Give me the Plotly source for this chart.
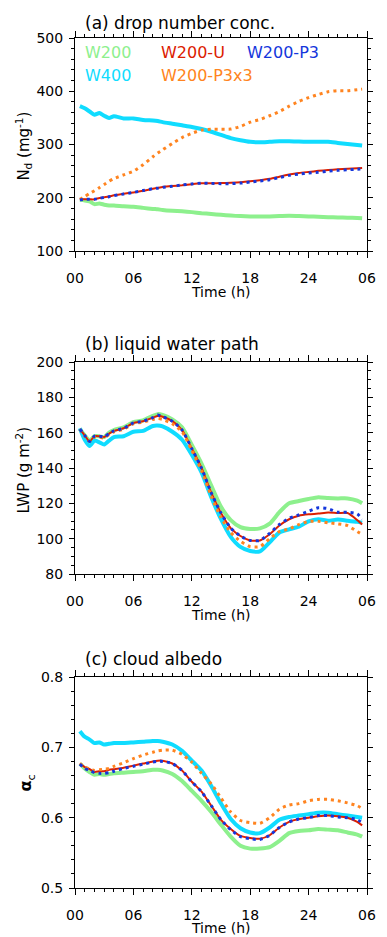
import plotly.graph_objects as go

# Time axis (hours since start of run)
time_h = [0.5, 1, 1.5, 2, 2.5, 3, 3.5, 4, 5, 6, 7, 8, 8.5, 9, 10, 11, 12, 13, 14, 15,
          16, 17, 18, 19, 20, 21, 22, 23, 24, 25, 26, 27, 28, 29, 29.5]
x_tickvals = [0, 6, 12, 18, 24, 30]
x_ticktext = ["00", "06", "12", "18", "24", "06"]

# (a) drop number concentration (mg^-1)
nd_w200 = [196, 195, 193, 188, 189, 187, 185.5, 185.5, 184, 183, 181, 179, 178.3, 177, 175.5,
           174.5, 173, 171, 169.5, 168, 166.5, 165.5, 165, 165, 165, 165.5, 166, 165.5, 165,
           164.5, 163.5, 163, 162.5, 162, 161.5]
nd_w400 = [372, 368, 362, 356, 359, 354, 350, 353, 349, 349, 346, 345, 344, 342, 339, 336, 333,
           329, 324, 318, 312, 308, 305, 304, 305, 306, 306, 305.5, 305, 305, 305, 303, 301,
           299, 298]
nd_w200_u = [197, 197, 197, 197, 199.5, 201, 202.5, 204.5, 207.5, 210, 213, 217, 218.5, 220,
             222, 223.5, 225.5, 227, 227, 227.5, 228, 229, 231, 233, 235.5, 239.5, 243.5,
             246.5, 248.5, 250.5, 252, 253.5, 254.5, 255.5, 256]
nd_w200_p3 = [196, 197, 197, 197, 199, 200.5, 202, 204, 207, 210, 213.5, 217, 218, 219.5,
              221.5, 224, 226, 227.5, 227, 226.5, 226.5, 227.5, 229.5, 231.5, 234, 238, 242,
              244.5, 246.5, 248, 250, 251.5, 252.5, 253.5, 254]
nd_w200_p3x3 = [197, 202, 208, 213, 219, 225, 231, 236, 243, 250, 262, 277, 284, 290, 302,
                313, 321, 327, 328.5, 328.5, 329, 334, 342, 347, 354, 362, 372, 381, 388, 394,
                399, 401, 401, 403, 404]

# (b) liquid water path (g m^-2)
lwp_w200 = [162, 158.5, 155.5, 158, 158, 157.5, 160, 161.5, 163, 166, 167, 169.5, 170.5, 170,
            167.5, 163, 153, 142.5, 130, 118, 110.5, 106.5, 105.5, 105.8, 108.5, 115, 120,
            121.3, 122.5, 123.5, 123, 122.8, 122.8, 121.5, 120]
lwp_w400 = [162.5, 156, 152.5, 155.5, 154.5, 153.3, 155.5, 157.5, 158, 160.5, 161, 163.8, 164,
            163.5, 160.5, 156, 147.5, 137.5, 123.5, 111, 101, 95.3, 93, 92.8, 98, 103.5, 105.3,
            106.8, 109.8, 111, 110.2, 110.8, 110.2, 109.5, 109]
lwp_w200_u = [162, 158.5, 155, 158, 158, 157.5, 159.5, 161, 162.5, 165.5, 166.5, 168.5, 169.5,
              169, 166.5, 161.5, 151, 140, 126, 114.5, 106, 101.5, 99, 99, 102.5, 107.5, 111,
              113, 113.8, 114.2, 114.8, 114.5, 114.5, 110.5, 108]
lwp_w200_p3 = [162, 158.5, 155, 158, 158, 157.5, 159.5, 161, 162.5, 165.5, 166.5, 168.5, 170,
               169, 166.5, 161.5, 151, 140, 126, 114.5, 106, 101.5, 99, 99, 103, 108, 111.5,
               113.5, 115.5, 117.5, 117, 115, 115, 114, 111]
lwp_w200_p3x3 = [162, 158, 155, 157.5, 157.5, 157, 159, 160.5, 162, 165, 166, 167.5, 168,
                 167.5, 165, 160.5, 150, 138.5, 124, 112, 103.5, 98.5, 95.5, 95.5, 100, 104,
                 105.5, 108, 109.8, 109.8, 109, 108.4, 107.4, 104, 102.5]

# (c) cloud albedo
alb_w200 = [0.677, 0.670, 0.665, 0.661, 0.662, 0.661, 0.662, 0.663, 0.664, 0.665, 0.666, 0.668,
            0.668, 0.667, 0.662, 0.652, 0.638, 0.624, 0.608, 0.590, 0.573, 0.560, 0.556, 0.556,
            0.558, 0.567, 0.578, 0.581, 0.582, 0.584, 0.583, 0.582, 0.579, 0.576, 0.573]
alb_w400 = [0.723, 0.715, 0.711, 0.706, 0.707, 0.704, 0.705, 0.706, 0.706, 0.707, 0.708, 0.709,
            0.709, 0.708, 0.704, 0.695, 0.681, 0.667, 0.645, 0.620, 0.598, 0.585, 0.579, 0.578,
            0.586, 0.597, 0.601, 0.603, 0.605, 0.607, 0.607, 0.605, 0.603, 0.601, 0.600]
alb_w200_u = [0.677, 0.672, 0.669, 0.665, 0.666, 0.666, 0.668, 0.669, 0.671, 0.674, 0.677,
              0.680, 0.681, 0.681, 0.677, 0.667, 0.651, 0.637, 0.617, 0.597, 0.584, 0.574,
              0.571, 0.570, 0.575, 0.586, 0.594, 0.598, 0.600, 0.602, 0.603, 0.602, 0.600,
              0.594, 0.589]
alb_w200_p3 = [0.676, 0.670, 0.667, 0.664, 0.663, 0.663, 0.664, 0.666, 0.670, 0.673, 0.676,
               0.679, 0.680, 0.680, 0.677, 0.667, 0.651, 0.637, 0.617, 0.597, 0.583, 0.573,
               0.570, 0.569, 0.575, 0.586, 0.594, 0.598, 0.600, 0.603, 0.603, 0.601, 0.600,
               0.597, 0.593]
alb_w200_p3x3 = [0.677, 0.672, 0.669, 0.667, 0.668, 0.669, 0.670, 0.673, 0.678, 0.684, 0.689,
                 0.693, 0.695, 0.696, 0.696, 0.690, 0.679, 0.663, 0.648, 0.628, 0.608, 0.596,
                 0.593, 0.592, 0.600, 0.612, 0.618, 0.620, 0.624, 0.626, 0.626, 0.624, 0.621,
                 0.617, 0.613]

names = ["W200", "W400", "W200-U", "W200-P3x3", "W200-P3"]
colors = {"W200": "#8df08d", "W400": "#10dcff", "W200-U": "#dc2000",
          "W200-P3": "#1436dc", "W200-P3x3": "#ff8420"}
styles = {"W200": dict(width=4), "W400": dict(width=4), "W200-U": dict(width=2),
          "W200-P3": dict(width=3, dash="3px,4px"), "W200-P3x3": dict(width=3, dash="3px,4px")}

panels = [
    ("x", "y", {"W200": nd_w200, "W400": nd_w400, "W200-U": nd_w200_u,
                "W200-P3": nd_w200_p3, "W200-P3x3": nd_w200_p3x3}),
    ("x2", "y2", {"W200": lwp_w200, "W400": lwp_w400, "W200-U": lwp_w200_u,
                  "W200-P3": lwp_w200_p3, "W200-P3x3": lwp_w200_p3x3}),
    ("x3", "y3", {"W200": alb_w200, "W400": alb_w400, "W200-U": alb_w200_u,
                  "W200-P3": alb_w200_p3, "W200-P3x3": alb_w200_p3x3}),
]

fig = go.Figure()
for xa, ya, series in panels:
    for nm in names:
        fig.add_trace(go.Scatter(
            x=time_h, y=series[nm], xaxis=xa, yaxis=ya, mode="lines", name=nm,
            showlegend=False, line=dict(color=colors[nm], shape="spline", smoothing=0.6,
                                        **styles[nm])))

FONT = "DejaVu Sans"
H = 937
T, B = 38, 49
plot_h = H - T - B


def dom(top_px, bot_px):
    return [1 - (bot_px - T) / plot_h, 1 - (top_px - T) / plot_h]


def yfrac(px):
    return 1 - (px - T) / plot_h


axis_common = dict(showline=True, linecolor="black", linewidth=1, mirror="ticks",
                   ticks="outside", tickcolor="black", showgrid=False, zeroline=False,
                   tickfont=dict(family=FONT, size=14, color="black"))

xcfg = dict(axis_common, range=[0, 30], tickmode="array", tickvals=x_tickvals,
            ticktext=x_ticktext, ticklen=6, ticklabelstandoff=8,
            minor=dict(dtick=1, ticks="outside", ticklen=3, tickcolor="black", showgrid=False))

domains = [dom(38, 251), dom(362, 574), dom(677, 888)]
y_specs = [
    dict(range=[100, 500], dtick=100, minor_dtick=20, fmt=None),
    dict(range=[80, 200], dtick=20, minor_dtick=5, fmt=None),
    dict(range=[0.5, 0.8], dtick=0.1, minor_dtick=0.02, fmt=".1f"),
]

layout = dict(width=387, height=H, margin=dict(l=75, r=11, t=T, b=B),
              plot_bgcolor="white", paper_bgcolor="white", showlegend=False)
for i, (d, ys) in enumerate(zip(domains, y_specs)):
    sfx = "" if i == 0 else str(i + 1)
    layout["xaxis" + sfx] = dict(xcfg, domain=[0, 1], anchor="y" + sfx)
    yc = dict(axis_common, range=ys["range"], dtick=ys["dtick"], tick0=0, ticklen=5,
              ticklabelstandoff=3, domain=d, anchor="x" + sfx,
              minor=dict(dtick=ys["minor_dtick"], ticks="outside", ticklen=3,
                         tickcolor="black", showgrid=False))
    if ys["fmt"]:
        yc["tickformat"] = ys["fmt"]
    layout["yaxis" + sfx] = yc
fig.update_layout(**layout)

ann = []


def text(x, y, s, size=16, color="black", xanchor="left", angle=0, xref="paper"):
    ann.append(dict(x=x, y=y, xref=xref, yref="paper", text=s, showarrow=False,
                    xanchor=xanchor, yanchor="middle", textangle=angle,
                    font=dict(family=FONT, size=size, color=color)))


plot_w = 387 - 75 - 11


def xfrac(px):
    return (px - 75) / plot_w


# panel titles
text(xfrac(83), yfrac(23), "(a) drop number conc.", size=17)
text(xfrac(83), yfrac(344), "(b) liquid water path", size=17)
text(xfrac(83), yfrac(659), "(c) cloud albedo", size=17)

# x-axis titles
for ypx in (292, 615, 928):
    text(0.5, yfrac(ypx), "Time (h)", size=14, xanchor="center")

# y-axis titles
text(xfrac(21), yfrac(146), "N<sub>d</sub> (mg<sup>-1</sup>)", size=15, xanchor="center", angle=-90)
text(xfrac(21), yfrac(470), "LWP (g m<sup>-2</sup>)", size=15, xanchor="center", angle=-90)
text(xfrac(25), yfrac(783), "<b>α</b><sub>c</sub>", size=16, xanchor="center", angle=-90)

# legend entries
legend_rows = [[("W200", 83), ("W200-U", 162), ("W200-P3", 250)],
               [("W400", 83), ("W200-P3x3", 162)]]
for row, ypx in zip(legend_rows, (52, 76)):
    for nm, xpx in row:
        text(xfrac(xpx), yfrac(ypx), nm, size=16, color=colors[nm])

fig.update_layout(annotations=ann)
fig.write_html("out.html")
